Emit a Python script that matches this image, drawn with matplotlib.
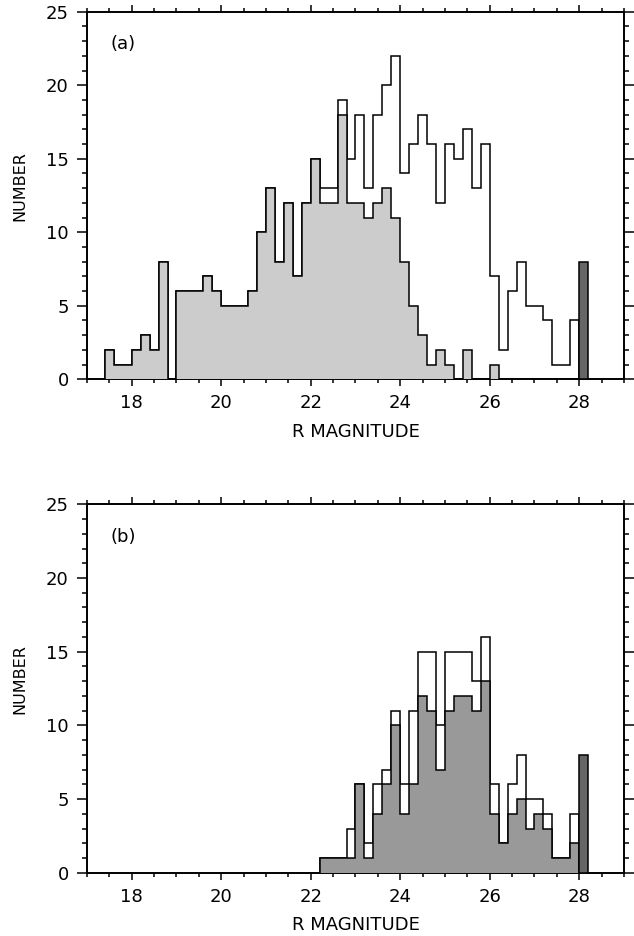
import numpy as np
import matplotlib
matplotlib.use("Agg")
import matplotlib.pyplot as plt
from matplotlib.ticker import MultipleLocator

plt.rcParams['font.family'] = ['DejaVu Sans']

# ---------------- data ----------------
BIN_WIDTH = 0.2
# lower edges of the 0.2-mag bins, panel (a): 17.4 ... 27.8
edges_a = np.round(np.arange(17.4, 28.0 + 0.001, BIN_WIDTH), 1)
total_a = [2, 1, 1, 2, 3, 2, 8, 0, 6, 6, 6, 7, 6, 5, 5, 5, 6, 10, 13, 8, 12, 7, 12, 15,
           13, 13, 19, 15, 18, 13, 18, 20, 22, 14, 16, 18, 16, 12, 16, 15, 17, 13, 16,
           7, 2, 6, 8, 5, 5, 4, 1, 1, 4]
gray_a = [2, 1, 1, 2, 3, 2, 8, 0, 6, 6, 6, 7, 6, 5, 5, 5, 6, 10, 13, 8, 12, 7, 12, 15,
          12, 12, 18, 12, 12, 11, 12, 13, 11, 8, 5, 3, 1, 2, 1, 0, 2, 0, 0,
          1, 0, 0, 0, 0, 0, 0, 0, 0, 0]

# panel (b): 22.2 ... 27.8
edges_b = np.round(np.arange(22.2, 28.0 + 0.001, BIN_WIDTH), 1)
total_b = [1, 1, 1, 3, 6, 2, 6, 7, 11, 6, 11, 15, 15, 10, 15, 15, 15, 13, 16,
           6, 2, 6, 8, 5, 5, 4, 1, 1, 4]
gray_b = [1, 1, 1, 1, 6, 1, 4, 6, 10, 4, 6, 12, 11, 7, 11, 12, 12, 11, 13,
          4, 2, 4, 5, 3, 4, 3, 1, 1, 2]

# limit bin at R = 28.0
limit_mag = [28.0]
limit_a = [8]
limit_b = [8]

x_ticks = [18, 20, 22, 24, 26, 28]
y_ticks = [0, 5, 10, 15, 20, 25]

LIGHT = '#cccccc'
MID = '#999999'
DARK = '#666666'

fig = plt.figure(figsize=(6.34, 9.36), dpi=100)
ax_a = fig.add_axes([0.1372, 0.5948, 0.847, 0.3927])
ax_b = fig.add_axes([0.1372, 0.0676, 0.847, 0.3936])

def style(ax, label):
    ax.set_xlim(17, 29)
    ax.set_ylim(0, 25)
    ax.set_xticks(x_ticks)
    ax.set_yticks(y_ticks)
    ax.xaxis.set_minor_locator(MultipleLocator(0.5))
    ax.yaxis.set_minor_locator(MultipleLocator(1))
    ax.tick_params(which='both', direction='out', top=True, right=True,
                   width=1.1, labelsize=13)
    ax.tick_params(axis='x', which='major', length=5.2, pad=5.7)
    ax.tick_params(axis='x', which='minor', length=2.8)
    ax.tick_params(axis='y', which='major', length=7.2, pad=6.0)
    ax.tick_params(axis='y', which='minor', length=3.4)
    for s in ax.spines.values():
        s.set_linewidth(1.4)
    ax.set_xlabel('R MAGNITUDE', fontsize=13, labelpad=7.5)
    ax.text(-0.1248, 0.526, 'NUMBER', rotation=90, ha='center', va='center',
            fontsize=11.5, transform=ax.transAxes)
    ax.text(0.043, 0.912, label, ha='left', va='center', fontsize=13,
            transform=ax.transAxes)

LW = 1.1
ax_a.stairs(total_a, edges_a, fill=True, facecolor='white', edgecolor='black',
            linewidth=LW, zorder=2)
ax_a.stairs(gray_a, edges_a, fill=True, facecolor=LIGHT, edgecolor='black',
            linewidth=LW, zorder=3)
ax_a.bar(limit_mag, limit_a, width=BIN_WIDTH, align='edge', color=DARK,
         edgecolor='black', linewidth=LW, zorder=4)
style(ax_a, '(a)')

ax_b.stairs(total_b, edges_b, fill=True, facecolor='white', edgecolor='black',
            linewidth=LW, zorder=2)
ax_b.stairs(gray_b, edges_b, fill=True, facecolor=MID, edgecolor='black',
            linewidth=LW, zorder=3)
ax_b.bar(limit_mag, limit_b, width=BIN_WIDTH, align='edge', color=DARK,
         edgecolor='black', linewidth=LW, zorder=4)
style(ax_b, '(b)')

fig.savefig('out.png', dpi=100)
